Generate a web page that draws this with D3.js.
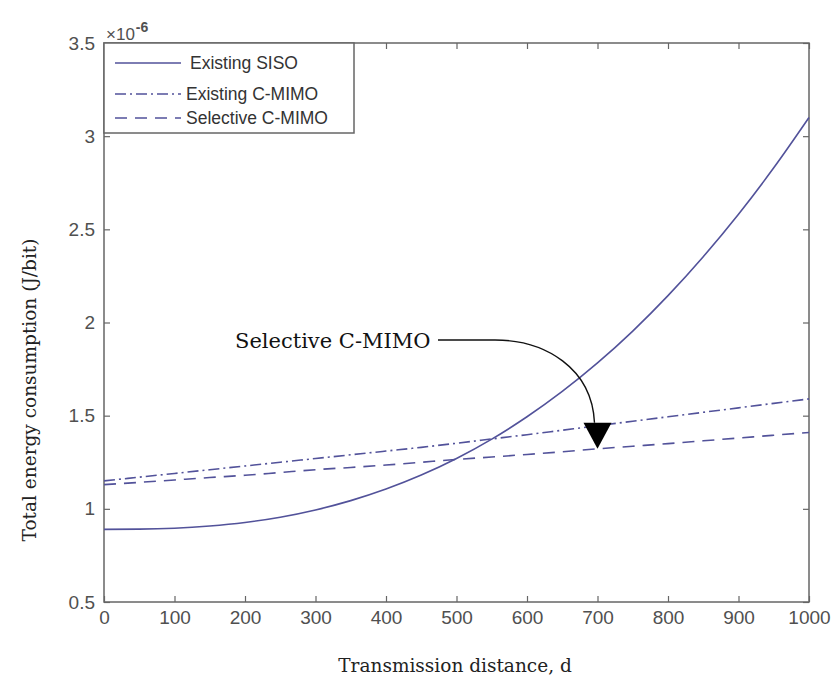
<!DOCTYPE html>
<html>
<head>
<meta charset="utf-8">
<script src="https://cdn.jsdelivr.net/npm/d3@7"></script>
<style>
  body { margin: 0; background: #fff; }
</style>
</head>
<body>
<div id="chart"></div>
<script>
// DATA (values x 1e-6 J/bit)
var distance = [0, 50, 100, 150, 200, 250, 300, 350, 400, 450, 500, 550, 600, 650, 700, 750, 800, 850, 900, 950, 1000];
var sisoVals = [0.890, 0.891, 0.896, 0.908, 0.927, 0.955, 0.994, 1.044, 1.106, 1.181, 1.270, 1.374, 1.494, 1.630, 1.783, 1.954, 2.144, 2.353, 2.581, 2.830, 3.100];
var cmimoVals = [1.150, 1.170, 1.190, 1.210, 1.230, 1.250, 1.270, 1.290, 1.310, 1.330, 1.352, 1.375, 1.398, 1.422, 1.446, 1.470, 1.494, 1.518, 1.542, 1.566, 1.590];
var selVals = [1.130, 1.142, 1.155, 1.168, 1.180, 1.195, 1.210, 1.222, 1.235, 1.250, 1.265, 1.278, 1.292, 1.306, 1.322, 1.336, 1.350, 1.365, 1.380, 1.395, 1.410];
var xTicks = [0, 100, 200, 300, 400, 500, 600, 700, 800, 900, 1000];
var yTicks = [0.5, 1, 1.5, 2, 2.5, 3, 3.5];
var seriesNames = ["Existing SISO", "Existing C-MIMO", "Selective C-MIMO"];

// SETUP
var width = 836, height = 698;
// plot box edges (note: "top" is reserved on window, so prefix them)
var pLeft = 104, pRight = 809, pTop = 43, pBottom = 602;
var axisCol = "#666", lineCol = "#52529a";
var sansFont = "'Liberation Sans', Arial, sans-serif";
var serifFont = "'DejaVu Serif', serif";

var svg = d3.select("#chart").append("svg")
    .attr("width", width)
    .attr("height", height);

var x = d3.scaleLinear().domain([0, 1000]).range([pLeft, pRight]);
var y = d3.scaleLinear().domain([0.5, 3.5]).range([pBottom, pTop]);

// axes - ticks inside, on all four sides (matlab box)
function styleAxis(g) {
  g.select(".domain").remove();
  g.selectAll(".tick line").attr("stroke", axisCol).attr("stroke-width", 1.2);
  g.selectAll(".tick text")
    .style("font-family", sansFont)
    .style("font-size", "19px")
    .attr("fill", "#505050");
}
svg.append("g").attr("transform", "translate(0," + pBottom + ")")
  .call(d3.axisBottom(x).tickValues(xTicks).tickSize(-6).tickPadding(9).tickFormat(d3.format("d")))
  .call(styleAxis);
svg.append("g").attr("transform", "translate(0," + pTop + ")")
  .call(d3.axisTop(x).tickValues(xTicks).tickSize(-6).tickFormat(""))
  .call(styleAxis);
svg.append("g").attr("transform", "translate(" + pLeft + ",0)")
  .call(d3.axisLeft(y).tickValues(yTicks).tickSize(-6).tickPadding(9).tickFormat(d3.format("")))
  .call(styleAxis);
svg.append("g").attr("transform", "translate(" + pRight + ",0)")
  .call(d3.axisRight(y).tickValues(yTicks).tickSize(-6).tickFormat(""))
  .call(styleAxis);

// box
svg.append("rect")
  .attr("x", pLeft).attr("y", pTop)
  .attr("width", pRight - pLeft).attr("height", pBottom - pTop)
  .attr("fill", "none").attr("stroke", axisCol).attr("stroke-width", 1.5);

// exponent label
var ex = svg.append("text")
  .attr("x", pLeft + 2).attr("y", pTop - 3)
  .style("font-family", sansFont)
  .style("font-size", "17px").attr("fill", "#505050");
ex.append("tspan").text("\u00d710");
ex.append("tspan").attr("dy", -8).attr("dx", 1).style("font-size", "14px").style("font-weight", "bold").text("-6");

// LINES
var line = d3.line()
  .x(function(d) { return x(d[0]); })
  .y(function(d) { return y(d[1]); })
  .curve(d3.curveMonotoneX);

var dashes = [null, "11,4,2,4", "12,8"];
var allVals = [sisoVals, cmimoVals, selVals];
allVals.forEach(function(vals, i) {
  svg.append("path")
    .datum(distance.map(function(d, j) { return [d, vals[j]]; }))
    .attr("d", line)
    .attr("fill", "none")
    .attr("stroke", lineCol)
    .attr("stroke-width", 1.6)
    .attr("stroke-dasharray", dashes[i]);
});

// LEGEND
var lg = svg.append("g");
lg.append("rect")
  .attr("x", pLeft).attr("y", pTop)
  .attr("width", 250).attr("height", 90)
  .attr("fill", "#fff").attr("stroke", axisCol).attr("stroke-width", 1.5);
var legendY = [63, 94, 118];
seriesNames.forEach(function(name, i) {
  lg.append("line")
    .attr("x1", 115).attr("x2", 181)
    .attr("y1", legendY[i]).attr("y2", legendY[i])
    .attr("stroke", lineCol).attr("stroke-width", 1.6)
    .attr("stroke-dasharray", dashes[i]);
  lg.append("text")
    .attr("x", i == 0 ? 190 : 186).attr("y", legendY[i] + 6)
    .style("font-family", sansFont)
    .style("font-size", "17.5px").attr("fill", "#333")
    .text(name);
});

// ANNOTATION - arrow pointing at selective C-MIMO at d=700
var tipX = x(700), tipY = y(selVals[distance.indexOf(700)]);
svg.append("text")
  .attr("x", 235).attr("y", 348)
  .style("font-family", serifFont)
  .style("font-size", "21px").attr("fill", "#111")
  .text("Selective C-MIMO");
svg.append("path")
  .attr("d", "M438,340 L495,340 C545,340 592,368 " + (tipX - 3) + "," + (tipY - 26))
  .attr("fill", "none").attr("stroke", "#111").attr("stroke-width", 1.4);
svg.append("path")
  .attr("d", "M" + (tipX - 14) + "," + (tipY - 26) + " L" + (tipX + 14) + "," + (tipY - 26) + " L" + tipX + "," + tipY + " Z")
  .attr("fill", "#000");

// AXIS TITLES
svg.append("text")
  .attr("x", 455).attr("y", 672)
  .attr("text-anchor", "middle")
  .style("font-family", serifFont)
  .style("font-size", "18.5px").attr("fill", "#222")
  .text("Transmission distance, d");
svg.append("text")
  .attr("transform", "translate(36," + 390 + ") rotate(-90)")
  .attr("text-anchor", "middle")
  .style("font-family", serifFont)
  .style("font-size", "18.5px").attr("fill", "#222")
  .text("Total energy consumption (J/bit)");
</script>
</body>
</html>
